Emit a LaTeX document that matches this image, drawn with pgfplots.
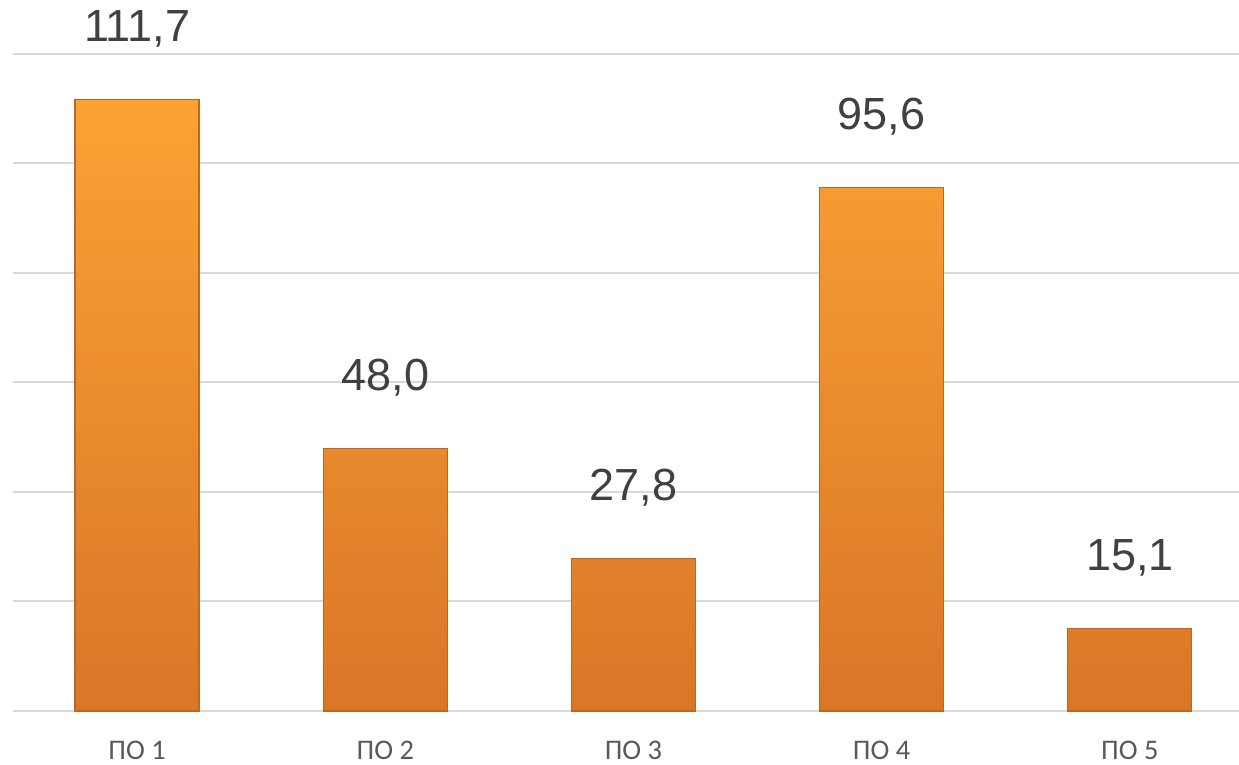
\documentclass[border=0pt]{standalone}
\usepackage{fontspec}
\setmainfont{Liberation Sans}
\newfontfamily\carlito{Carlito}
\usepackage{pgfplots}
\pgfplotsset{compat=1.18}
\definecolor{bartop}{RGB}{251,162,52}
\definecolor{barbot}{RGB}{218,118,40}
\definecolor{baredge}{RGB}{188,104,34}
\definecolor{gridgray}{RGB}{217,217,217}
\definecolor{valgray}{RGB}{64,64,64}
\definecolor{tickgray}{RGB}{89,89,89}
\begin{document}
\begin{tikzpicture}
\begin{axis}[
    scale only axis,
    width=613pt, height=328.5pt,
    xmin=-0.5, xmax=4.44,
    ymin=0, ymax=120,
    ytick={0,20,...,120}, yticklabels={},
    ymajorgrids,
    grid style={gridgray, line width=1pt},
    axis line style={draw=none},
    major tick length=0pt,
    xtick=data,
    xticklabels={ПО 1, ПО 2, ПО 3, ПО 4, ПО 5},
    xticklabel style={font=\carlito\fontsize{14.2}{16}\selectfont, text=tickgray, yshift=-11.5pt},
    /pgf/number format/assume math mode=true,
    nodes near coords={\pgfmathprintnumber[fixed,zerofill,precision=1,use comma]{\pgfplotspointmeta}},
    nodes near coords style={font=\fontsize{22.5}{25}\selectfont, text=valgray, anchor=base, yshift=29pt},
    clip=false,
]
  % values per category
  \addplot[ybar, bar width=62pt, top color=bartop, bottom color=barbot, draw=baredge, line width=0.6pt]
    coordinates {(0,111.7) (1,48.0) (2,27.8) (3,95.6) (4,15.1)};
  \coordinate (bl) at (rel axis cs:0,0);
  \coordinate (tr) at (rel axis cs:1,1);
\end{axis}
\pgfresetboundingbox
\path[use as bounding box] ([xshift=-6.5pt,yshift=-27pt]bl) rectangle ([yshift=27pt]tr);
\end{tikzpicture}
\end{document}
